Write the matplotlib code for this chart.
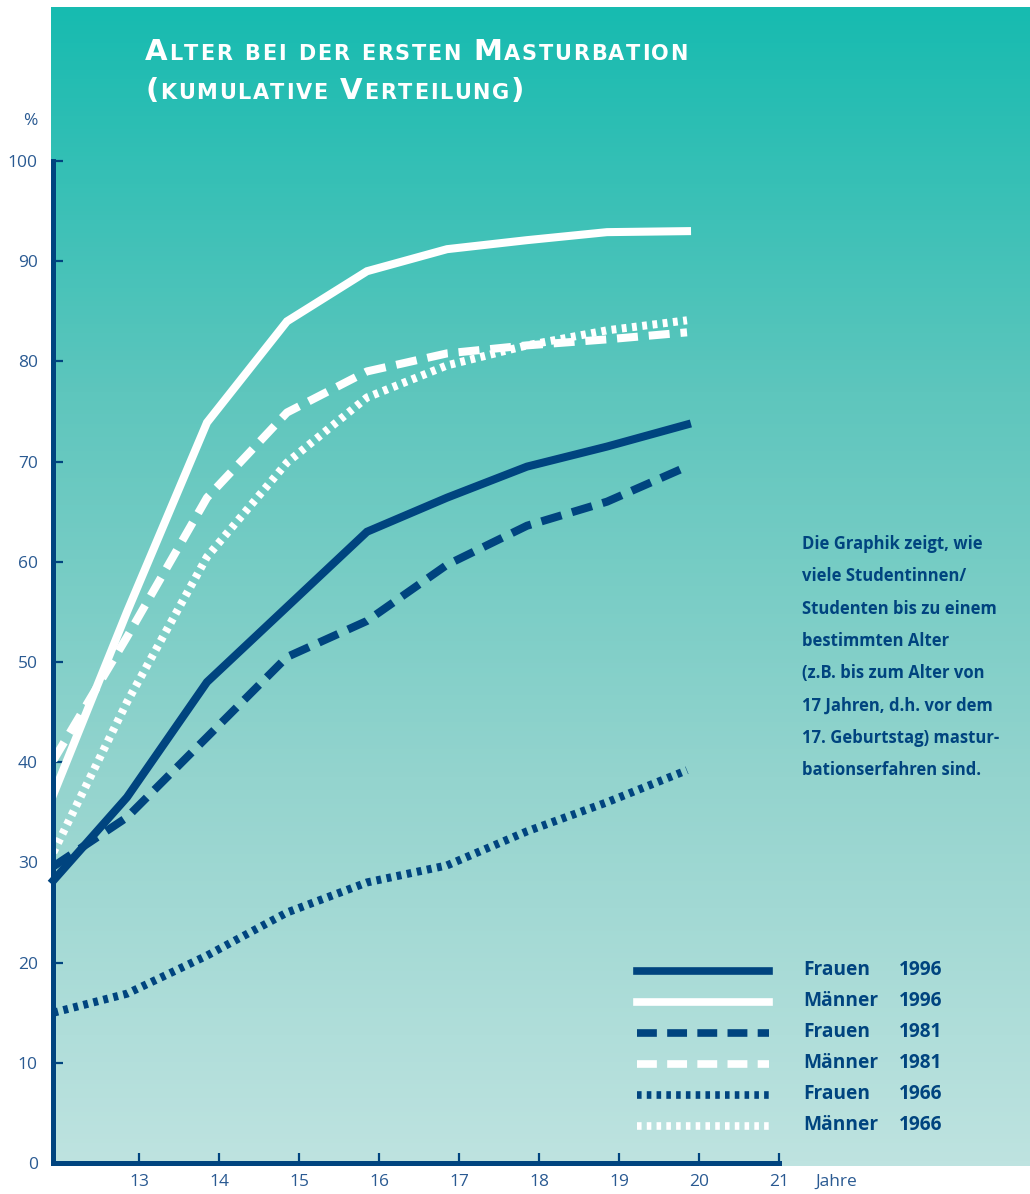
import matplotlib
matplotlib.use('Agg')
import matplotlib.pyplot as plt
from matplotlib.colors import LinearSegmentedColormap
from matplotlib.font_manager import FontProperties
import numpy as np

# ages (x positions of the curve vertices) and cumulative percentages
ages = [11.93, 12.85, 13.85, 14.85, 15.85, 16.85, 17.85, 18.85, 19.85]
frauen_1996 = [28.2, 36.5, 48.0, 55.5, 63.0, 66.4, 69.5, 71.5, 73.7]
maenner_1996 = [36.8, 55.0, 73.9, 84.0, 89.0, 91.2, 92.1, 92.9, 93.0]
frauen_1981 = [29.6, 34.5, 42.5, 50.5, 54.1, 59.7, 63.6, 66.0, 69.5]
maenner_1981 = [40.2, 52.5, 66.4, 74.9, 79.0, 80.8, 81.6, 82.2, 82.9]
frauen_1966 = [15.0, 16.9, 20.7, 25.0, 28.0, 29.7, 33.1, 36.0, 39.2]
maenner_1966 = [31.0, 46.0, 60.5, 69.9, 76.4, 79.6, 81.6, 83.1, 84.1]

groups = ['Frauen', 'Männer', 'Frauen', 'Männer', 'Frauen', 'Männer']
years = ['1996', '1996', '1981', '1981', '1966', '1966']
values = [frauen_1996, maenner_1996, frauen_1981, maenner_1981, frauen_1966, maenner_1966]

x_ticks = [13, 14, 15, 16, 17, 18, 19, 20, 21]
y_ticks = [0, 10, 20, 30, 40, 50, 60, 70, 80, 90, 100]

title_lines = ['Alter bei der ersten Masturbation', '(kumulative Verteilung)']
note_lines = ['Die Graphik zeigt, wie',
              'viele Studentinnen/',
              'Studenten bis zu einem',
              'bestimmten Alter',
              '(z.B. bis zum Alter von',
              '17 Jahren, d.h. vor dem',
              '17. Geburtstag) mastur-',
              'bationserfahren sind.']

DARK = '#00447f'
LABEL = '#2a5a92'
W, H = 1030, 1194

solid = '-'
dashed = (0, (2.6, 1.35))
dotted = (0, (0.6, 0.68))
styles = [(DARK, solid), ('white', solid), (DARK, dashed),
          ('white', dashed), (DARK, dotted), ('white', dotted)]
LW = 5.8

fig = plt.figure(figsize=(W / 100, H / 100), dpi=100)
fig.patch.set_facecolor('white')

# teal gradient panel behind the chart
bg = fig.add_axes([51 / W, 1 - 1166 / H, (W - 51) / W, (1166 - 7) / H], zorder=0)
cmap = LinearSegmentedColormap.from_list(
    'teal', ['#17bbb0', '#5ec6bd', '#94d4ce', '#bee3e0'])
bg.imshow(np.linspace(0, 1, 256).reshape(-1, 1), aspect='auto', cmap=cmap,
          extent=[0, 1, 0, 1])
bg.set_axis_off()

ax = fig.add_axes([53 / W, 1 - 1163 / H, (779 - 53) / W, (1163 - 161) / H], zorder=1)
ax.patch.set_alpha(0)

for vals, (color, ls) in zip(values, styles):
    ax.plot(ages, vals, color=color, linestyle=ls, lw=LW,
            solid_joinstyle='miter', dash_capstyle='butt', clip_on=False)

ax.set_xlim(11.925, 21)
ax.set_ylim(0, 100)
for side in ['top', 'right']:
    ax.spines[side].set_visible(False)
for side in ['left', 'bottom']:
    ax.spines[side].set_color(DARK)
    ax.spines[side].set_linewidth(3.6)
    ax.spines[side].set_capstyle('projecting')

tick_font = ['Open Sans', 'DejaVu Sans']
ax.set_xticks(x_ticks)
ax.set_yticks(y_ticks)
ax.tick_params(axis='x', direction='in', length=7.5, width=1.6, color=DARK,
               pad=8, labelsize=12.5, labelcolor=LABEL)
ax.tick_params(axis='y', direction='in', length=7.5, width=1.6, color=DARK,
               pad=11, labelsize=12.5, labelcolor=LABEL)
for lab in ax.get_xticklabels() + ax.get_yticklabels():
    lab.set_family(tick_font)

ax.annotate('Jahre', xy=(21, 0), xycoords='data', xytext=(26, -8),
            textcoords='offset points', ha='left', va='top',
            fontsize=12.5, color=LABEL, family=tick_font)
ax.annotate('%', xy=(0, 1), xycoords='axes fraction', xytext=(-16, 26),
            textcoords='offset points', ha='center', va='baseline',
            fontsize=12.5, color=LABEL, family=tick_font)

# legend drawn by hand: line sample, group, year
bold_font = ['Open Sans', 'DejaVu Sans']
ax_w = 779 - 53
ax_h = 1163 - 161
for i, ((color, ls), grp, yr) in enumerate(zip(styles, groups, years)):
    y_px = 971 + 31 * i
    yf = (1163 - y_px) / ax_h
    ax.plot([(637 - 53) / ax_w, (769 - 53) / ax_w], [yf, yf],
            transform=ax.transAxes, color=color, linestyle=ls, lw=5.5,
            dash_capstyle='butt', clip_on=False)
    fig.text(803 / W, 1 - (y_px + 4) / H, grp, ha='left', va='baseline',
             fontsize=13.8, fontweight='bold', color=DARK, family=bold_font)
    fig.text(899 / W, 1 - (y_px + 4) / H, yr, ha='left', va='baseline',
             fontsize=13.8, fontweight='bold', color=DARK, family=bold_font)

for i, line in enumerate(note_lines):
    fig.text(802 / W, 1 - (549 + 32.3 * i) / H, line, ha='left', va='baseline',
             fontsize=12, fontweight='bold', color=DARK, family=bold_font)

# small caps title, letter-spaced to the original width
renderer = fig.canvas.get_renderer()
title_font = ['DejaVu Sans']


def small_caps(text, x0, baseline, big=21.0, small=15.0, target=None, track=None):
    pieces = []
    for ch in text:
        if ch == ' ':
            pieces.append((None, 0))
        elif ch.isupper() or ch in '()':
            pieces.append((ch, big))
        else:
            pieces.append((ch.upper(), small))
    widths = []
    for ch, sz in pieces:
        if ch is None:
            widths.append(9.0)
        else:
            fp = FontProperties(family=title_font, weight='bold', size=sz)
            widths.append(renderer.get_text_width_height_descent(ch, fp, False)[0])
    if track is None:
        track = (target - sum(widths)) / (len(pieces) - 1)
    x = x0
    for (ch, sz), w in zip(pieces, widths):
        if ch is not None:
            fig.text(x / W, 1 - baseline / H, ch, ha='left', va='baseline',
                     fontsize=sz, fontweight='bold', color='white',
                     family=title_font)
        x += w + track
    return track


trk = small_caps(title_lines[0], 145, 60, target=543)
small_caps(title_lines[1], 145, 99, track=trk)

fig.savefig('out.png', dpi=100)
